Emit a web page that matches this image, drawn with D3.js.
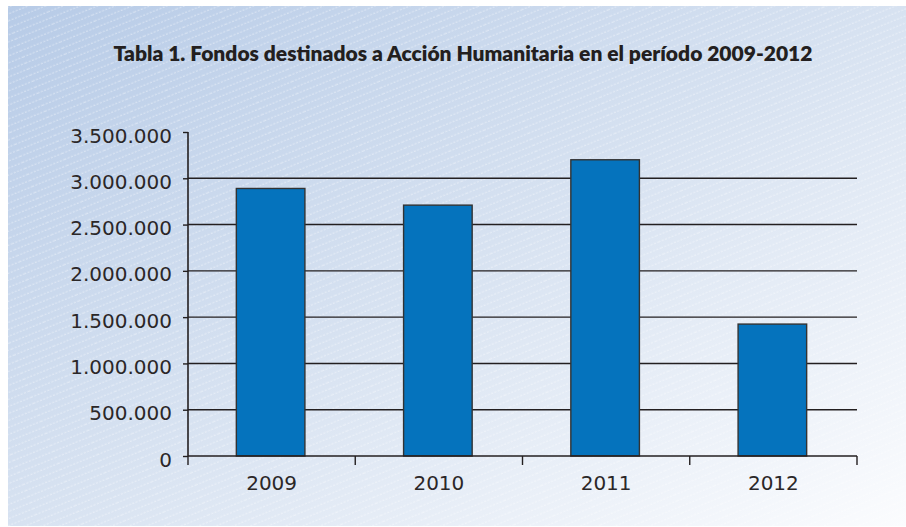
<!DOCTYPE html>
<html>
<head>
<meta charset="utf-8">
<script src="https://cdn.jsdelivr.net/npm/d3@7"></script>
<style>
  html, body { margin: 0; padding: 0; background: #fff; }
  svg { display: block; }
</style>
</head>
<body>
<div id="chart"></div>
<script>
const title = 'Tabla 1. Fondos destinados a Acción Humanitaria en el período 2009-2012';
const years = ['2009', '2010', '2011', '2012'];
const funds = [2890000, 2710000, 3200000, 1425000];
const yTicks = [0, 500000, 1000000, 1500000, 2000000, 2500000, 3000000, 3500000];

const width = 906;
const height = 527;
const margin = { top: 132, right: 49, bottom: 71, left: 188 };

const svg = d3.select('#chart')
  .append('svg')
  .attr('width', width)
  .attr('height', height);

const defs = svg.append('defs');

// panel gradient, darker blue top-left fading to white bottom-right
const grad = defs.append('linearGradient')
  .attr('id', 'bg')
  .attr('x1', '0%').attr('y1', '0%')
  .attr('x2', '100%').attr('y2', '100%');
grad.append('stop').attr('offset', '0%').attr('stop-color', '#b7cbe7');
grad.append('stop').attr('offset', '50%').attr('stop-color', '#d7e2f1');
grad.append('stop').attr('offset', '100%').attr('stop-color', '#fbfcfe');

// thin dashed diagonal stripes
const pat = defs.append('pattern')
  .attr('id', 'stripes')
  .attr('patternUnits', 'userSpaceOnUse')
  .attr('width', 40)
  .attr('height', 6.5)
  .attr('patternTransform', 'rotate(-22)');
pat.append('line')
  .attr('x1', 0).attr('y1', 3)
  .attr('x2', 40).attr('y2', 3)
  .attr('stroke', '#ffffff')
  .attr('stroke-opacity', 0.6)
  .attr('stroke-width', 0.8)
  .attr('stroke-dasharray', '2,1.5');

svg.append('rect')
  .attr('x', 8).attr('y', 6)
  .attr('width', width - 8).attr('height', 520)
  .attr('fill', 'url(#bg)');
svg.append('rect')
  .attr('x', 8).attr('y', 6)
  .attr('width', width - 8).attr('height', 520)
  .attr('fill', 'url(#stripes)');

svg.append('text')
  .attr('x', 463)
  .attr('y', 61)
  .attr('text-anchor', 'middle')
  .attr('font-family', 'Lato, "Open Sans", sans-serif')
  .attr('font-weight', 800)
  .attr('font-size', 21)
  .attr('fill', '#231f20')
  .text(title);

const innerW = width - margin.left - margin.right;
const innerH = height - margin.top - margin.bottom;

const g = svg.append('g')
  .attr('transform', `translate(${margin.left},${margin.top})`);

const x = d3.scaleBand()
  .domain(years)
  .range([0, innerW])
  .padding(0);

const y = d3.scaleLinear()
  .domain([0, 3500000])
  .range([innerH, 0]);

const locale = d3.formatLocale({ decimal: ',', thousands: '.', grouping: [3], currency: ['', ''] });
const fmt = locale.format(',');

// gridlines
g.selectAll('.grid')
  .data(yTicks.filter(d => d > 0 && d < 3500000))
  .enter().append('line')
  .attr('class', 'grid')
  .attr('x1', 0).attr('x2', innerW)
  .attr('y1', d => y(d)).attr('y2', d => y(d))
  .attr('stroke', '#231f20')
  .attr('stroke-width', 1.4);

// bars
const barFrac = 0.41;
g.selectAll('.bar')
  .data(years.map((yr, i) => ({ yr, v: funds[i] })))
  .enter().append('rect')
  .attr('class', 'bar')
  .attr('x', d => x(d.yr) + x.bandwidth() * (1 - barFrac) / 2 - 1)
  .attr('y', d => y(d.v))
  .attr('width', x.bandwidth() * barFrac)
  .attr('height', d => innerH - y(d.v))
  .attr('fill', '#0573bd')
  .attr('stroke', '#333333')
  .attr('stroke-width', 1.4);

// y axis
const yAxis = g.append('g')
  .call(d3.axisLeft(y).tickValues(yTicks).tickFormat(fmt).tickSize(5).tickPadding(11));
yAxis.select('.domain')
  .attr('d', `M0,${innerH}V0`)
  .attr('stroke', '#231f20')
  .attr('stroke-width', 1.6);
yAxis.selectAll('.tick line').attr('stroke', '#231f20').attr('stroke-width', 1.4);
yAxis.selectAll('.tick text')
  .attr('font-family', '"DejaVu Sans", sans-serif')
  .attr('font-size', 20)
  .attr('fill', '#2b2728')
  .attr('dy', '0.5em');

// x axis, ticks on band edges
const xAxis = g.append('g')
  .attr('transform', `translate(0,${innerH})`);
xAxis.append('line')
  .attr('x1', 0).attr('x2', innerW)
  .attr('stroke', '#231f20')
  .attr('stroke-width', 1.6);
const edges = years.map(d => x(d)).concat([innerW]);
xAxis.selectAll('.edge')
  .data(edges)
  .enter().append('line')
  .attr('class', 'edge')
  .attr('x1', d => d).attr('x2', d => d)
  .attr('y1', 0).attr('y2', 9)
  .attr('stroke', '#231f20')
  .attr('stroke-width', 1.4);
xAxis.selectAll('.lbl')
  .data(years)
  .enter().append('text')
  .attr('class', 'lbl')
  .attr('x', d => x(d) + x.bandwidth() / 2)
  .attr('y', 34)
  .attr('text-anchor', 'middle')
  .attr('font-family', '"DejaVu Sans", sans-serif')
  .attr('font-size', 20)
  .attr('fill', '#2b2728')
  .text(d => d);
</script>
</body>
</html>
